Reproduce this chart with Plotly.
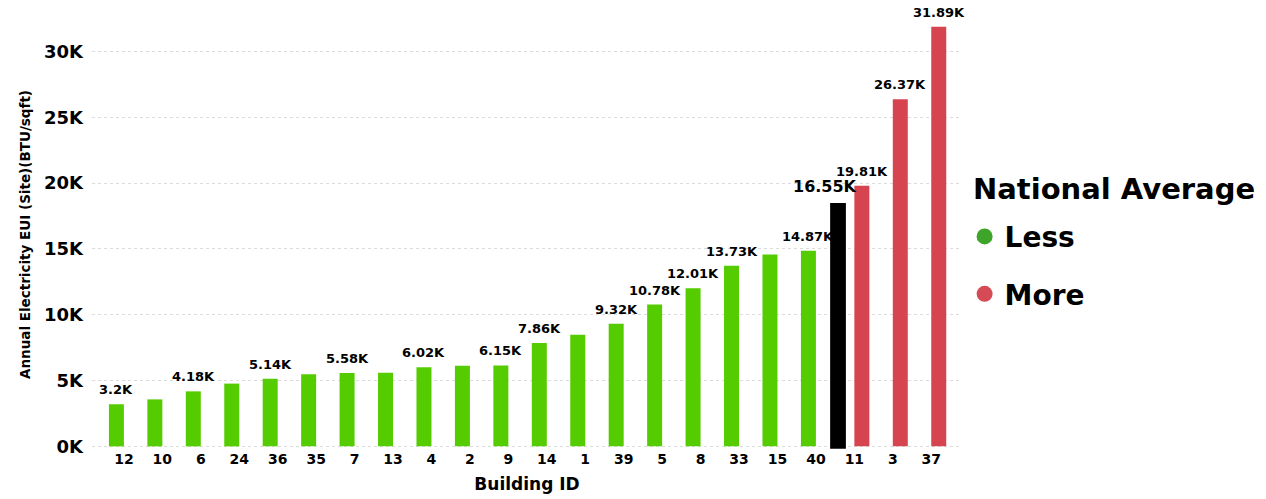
import plotly.graph_objects as go

# Buildings below the national average (sorted by EUI)
less_ids = ["12", "10", "6", "24", "36", "35", "7", "13", "4", "2",
            "9", "14", "1", "39", "5", "8", "33", "15", "40"]
less_eui = [3.2, 3.57, 4.18, 4.77, 5.14, 5.48, 5.58, 5.6, 6.02, 6.12,
            6.15, 7.86, 8.49, 9.32, 10.78, 12.01, 13.73, 14.58, 14.87]
less_labels = ["3.2K", "", "4.18K", "", "5.14K", "", "5.58K", "", "6.02K", "",
               "6.15K", "7.86K", "", "9.32K", "10.78K", "12.01K", "13.73K", "", "14.87K"]

# Buildings above the national average
more_ids = ["11", "3", "37"]
more_eui = [19.81, 26.37, 31.89]
more_labels = ["19.81K", "26.37K", "31.89K"]

# National average reference bar
nat_avg_eui = 18.5
nat_avg_label = "16.55K"

FONT = "DejaVu Sans"
GREEN = "#55cc00"
RED = "#d6454f"
label_font = dict(family=FONT, size=13, color="black")

fig = go.Figure()

fig.add_trace(go.Bar(
    x=less_ids, y=less_eui,
    marker=dict(color=GREEN, line=dict(width=0)),
    width=0.39, offset=-0.39, showlegend=False,
))

fig.add_trace(go.Bar(
    x=more_ids, y=more_eui,
    marker=dict(color=RED, line=dict(width=0)),
    width=0.39, offset=0.0, showlegend=False,
))

# black national-average bar sits between building 40 and 11
fig.add_trace(go.Bar(
    x=[less_ids[-1]], y=[nat_avg_eui + 0.19], base=[-0.19],
    marker=dict(color="black", line=dict(width=0)),
    width=0.41, offset=0.37, cliponaxis=False, showlegend=False,
))

# value labels over the bars (bars sit half a bar-width off the tick)
all_eui = less_eui + more_eui
all_labels = less_labels + more_labels
for i, (val, lab) in enumerate(zip(all_eui, all_labels)):
    if not lab:
        continue
    fig.add_annotation(
        x=i, y=val, text="<b>" + lab + "</b>", showarrow=False,
        yanchor="bottom", xshift=-7.5 if i < len(less_ids) else 7.5, yshift=5,
        font=label_font,
    )

fig.add_annotation(
    x=len(less_ids) - 1, y=nat_avg_eui, text="<b>" + nat_avg_label + "</b>",
    showarrow=False, yanchor="bottom", xshift=9, yshift=5,
    font=dict(family=FONT, size=16, color="black"),
)

# legend title + entries
fig.add_annotation(
    xref="paper", yref="paper", x=1.01, y=0.605, xanchor="left", yanchor="middle",
    text="<b>National Average</b>", showarrow=False,
    font=dict(family=FONT, size=29, color="black"),
)
fig.add_trace(go.Scatter(
    x=[None], y=[None], mode="markers", name="<b>Less</b>", legendgroup="less",
    marker=dict(color="#3fa52a", size=22, symbol="circle"),
))
fig.add_trace(go.Scatter(
    x=[None], y=[None], mode="markers", name="<b>More</b>", legendgroup="more",
    marker=dict(color="#d44a55", size=22, symbol="circle"),
))

fig.update_layout(
    width=1266, height=499,
    margin=dict(l=84, r=312, t=12, b=58),
    plot_bgcolor="white", paper_bgcolor="white",
    font=dict(family=FONT, color="black"),
    barmode="overlay",
    legend=dict(
        font=dict(family=FONT, size=28),
        x=1.003, xanchor="left", y=0.553, yanchor="top",
        traceorder="grouped", tracegroupgap=18,
        itemsizing="trace",
    ),
    xaxis=dict(
        type="category", categoryorder="array",
        categoryarray=less_ids + more_ids,
        range=[-0.83, 21.8], automargin=False,
        showgrid=False, showline=False, ticks="",
        tickfont=dict(family=FONT, size=14, weight="bold"),
        title=dict(text="<b>Building ID</b>", font=dict(family=FONT, size=17), standoff=12),
    ),
    yaxis=dict(
        range=[-0.2, 32.4], dtick=5, ticksuffix="K", automargin=False,
        showgrid=True, gridcolor="#dcdcdc", griddash="dot", gridwidth=1,
        zeroline=False, showline=False, ticks="",
        tickfont=dict(family=FONT, size=18, weight="bold"),
        ticklabelstandoff=8,
        title=dict(text="\u00a0" * 4 + "<b>Annual Electricity EUI (Site)(BTU/sqft)</b>",
                   font=dict(family=FONT, size=13.5), standoff=10),
    ),
)

fig.write_html("out.html")
